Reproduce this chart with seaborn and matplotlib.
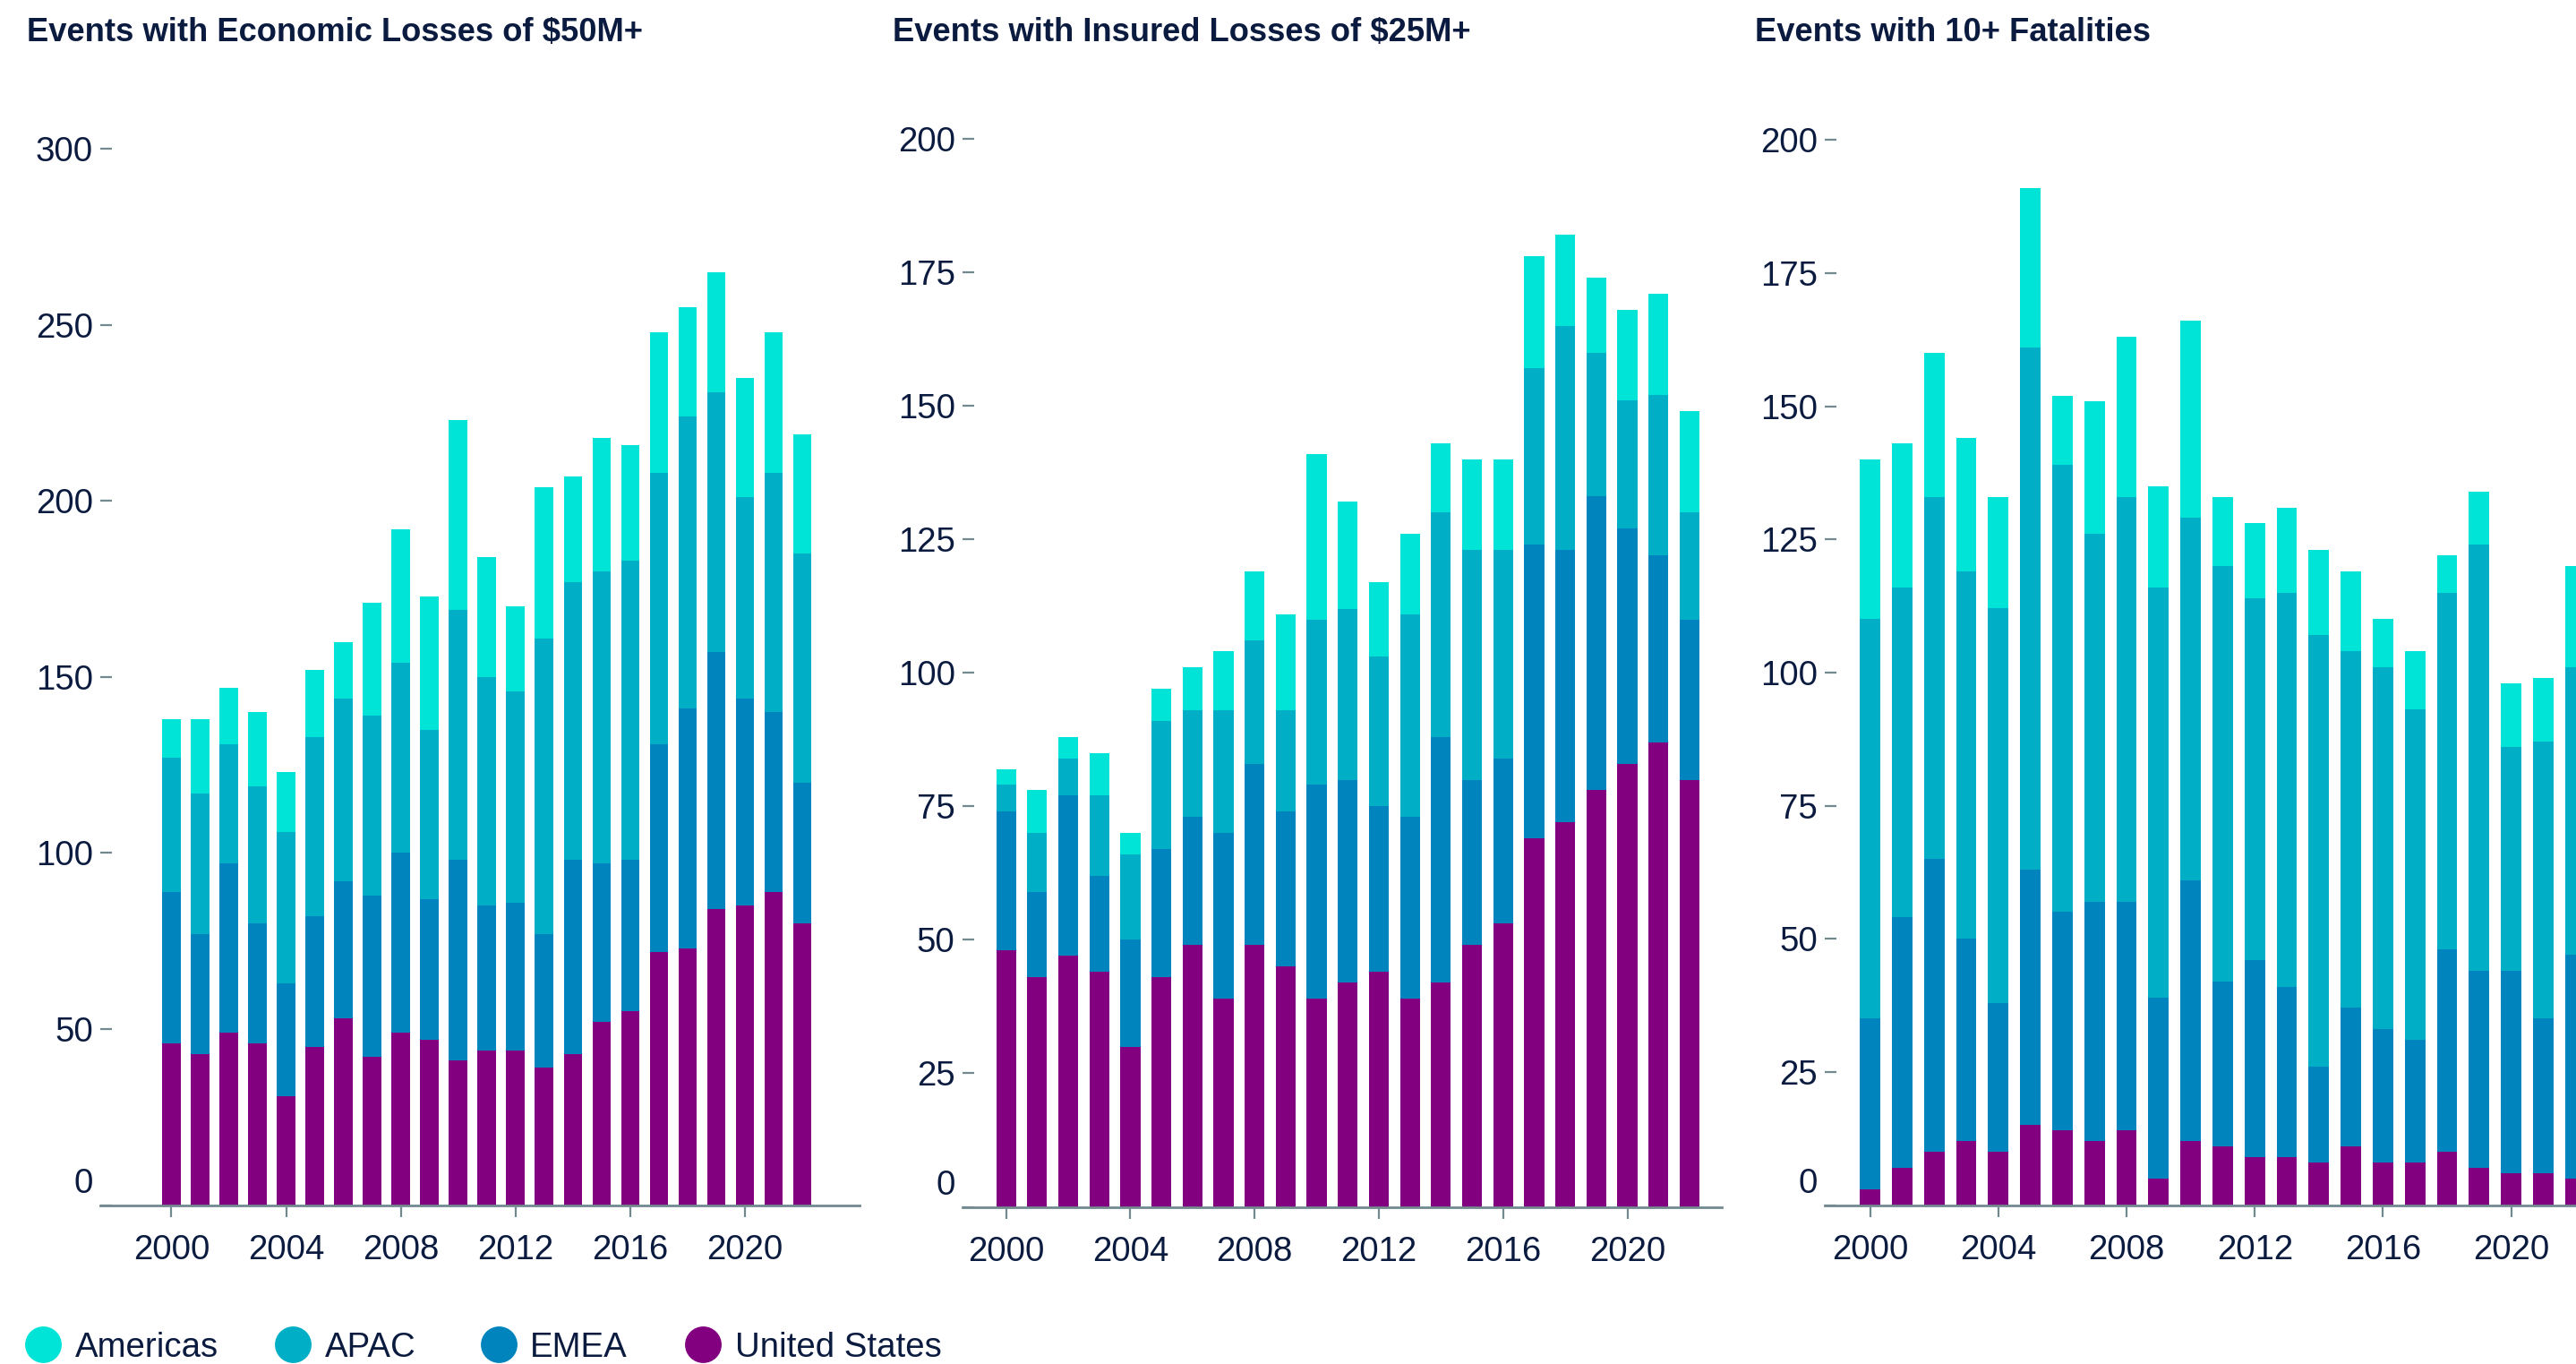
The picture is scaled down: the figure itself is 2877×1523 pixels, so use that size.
import numpy as np
import pandas as pd
import matplotlib
matplotlib.use("Agg")
import matplotlib.pyplot as plt
import matplotlib.transforms as mtransforms
from matplotlib.lines import Line2D
import seaborn as sns

# ---------------- data ----------------
years = list(range(2000, 2023))
regions = ["Americas", "APAC", "EMEA", "United States"]
tick_years = [2000, 2004, 2008, 2012, 2016, 2020]

econ_us       = [46, 43, 49, 46, 31, 45, 53, 42, 49, 47, 41, 44, 44, 39, 43, 52, 55, 72, 73, 84, 85, 89, 80]
econ_emea     = [43, 34, 48, 34, 32, 37, 39, 46, 51, 40, 57, 41, 42, 38, 55, 45, 43, 59, 68, 73, 59, 51, 40]
econ_apac     = [38, 40, 34, 39, 43, 51, 52, 51, 54, 48, 71, 65, 60, 84, 79, 83, 85, 77, 83, 74, 57, 68, 65]
econ_americas = [11, 21, 16, 21, 17, 19, 16, 32, 38, 38, 54, 34, 24, 43, 30, 38, 33, 40, 31, 34, 34, 40, 34]

ins_us        = [48, 43, 47, 44, 30, 43, 49, 39, 49, 45, 39, 42, 44, 39, 42, 49, 53, 69, 72, 78, 83, 87, 80]
ins_emea      = [26, 16, 30, 18, 20, 24, 24, 31, 34, 29, 40, 38, 31, 34, 46, 31, 31, 55, 51, 55, 44, 35, 30]
ins_apac      = [5, 11, 7, 15, 16, 24, 20, 23, 23, 19, 31, 32, 28, 38, 42, 43, 39, 33, 42, 27, 24, 30, 20]
ins_americas  = [3, 8, 4, 8, 4, 6, 8, 11, 13, 18, 31, 20, 14, 15, 13, 17, 17, 21, 17, 14, 17, 19, 19]

fat_us        = [3, 7, 10, 12, 10, 15, 14, 12, 14, 5, 12, 11, 9, 9, 8, 11, 8, 8, 10, 7, 6, 6, 5]
fat_emea      = [32, 47, 55, 38, 28, 48, 41, 45, 43, 34, 49, 31, 37, 32, 18, 26, 25, 23, 38, 37, 38, 29, 42]
fat_apac      = [75, 62, 68, 69, 74, 98, 84, 69, 76, 77, 68, 78, 68, 74, 81, 67, 68, 62, 67, 80, 42, 52, 54]
fat_americas  = [30, 27, 27, 25, 21, 30, 13, 25, 30, 19, 37, 13, 14, 16, 16, 15, 9, 11, 7, 10, 12, 12, 19]

titles = ["Events with Economic Losses of $50M+",
          "Events with Insured Losses of $25M+",
          "Events with 10+ Fatalities"]

# ---------------- style ----------------
colors = {"Americas": "#00E3D7", "APAC": "#00AFC6", "EMEA": "#0084BE", "United States": "#82007F"}
text_color = "#0B1B3F"
axis_color = "#728990"

sns.set_style("white")
plt.rcParams["font.family"] = ["Liberation Sans", "DejaVu Sans"]

W, H, DPI = 2877, 1523, 200
fig = plt.figure(figsize=(W / DPI, H / DPI), dpi=DPI)
fig.patch.set_facecolor("white")


def fx(px):
    return px / W


def fy(py):
    return 1 - py / H


# axes geometry in pixels: left, right, bottom (y=0), top (y=ymax), xlim
panels = [
    dict(data=(econ_us, econ_emea, econ_apac, econ_americas), left=112, right=960,
         bottom=1345.6, top=166.3, xlim=(-2.48, 24.0), ymax=300, yticks=[0, 50, 100, 150, 200, 250, 300],
         title_x=30),
    dict(data=(ins_us, ins_emea, ins_apac, ins_americas), left=1074.7, right=1923,
         bottom=1347.5, top=155, xlim=(-1.41, 23.04), ymax=200, yticks=[0, 25, 50, 75, 100, 125, 150, 175, 200],
         title_x=997),
    dict(data=(fat_us, fat_emea, fat_apac, fat_americas), left=2037.8, right=2037.8 + 24.46 * 35.8,
         bottom=1345.5, top=156.2, xlim=(-1.42, 23.04), ymax=200, yticks=[0, 25, 50, 75, 100, 125, 150, 175, 200],
         title_x=1960),
]

for p, title in zip(panels, titles):
    us, emea, apac, am = p["data"]
    df = pd.DataFrame({
        "year": [str(y) for y in years],
        "United States": us, "EMEA": emea, "APAC": apac, "Americas": am,
    })
    df["cum_us"] = df["United States"]
    df["cum_emea"] = df["cum_us"] + df["EMEA"]
    df["cum_apac"] = df["cum_emea"] + df["APAC"]
    df["cum_americas"] = df["cum_apac"] + df["Americas"]

    ax = fig.add_axes([fx(p["left"]), fy(p["bottom"]),
                       (p["right"] - p["left"]) / W, (p["bottom"] - p["top"]) / H])
    order = [str(y) for y in years]
    for col, reg in [("cum_americas", "Americas"), ("cum_apac", "APAC"),
                     ("cum_emea", "EMEA"), ("cum_us", "United States")]:
        sns.barplot(data=df, x="year", y=col, order=order, color=colors[reg],
                    saturation=1, width=0.64, errorbar=None, linewidth=0, ax=ax)

    ax.set_xlim(*p["xlim"])
    ax.set_ylim(0, p["ymax"])
    ax.set_xlabel("")
    ax.set_ylabel("")
    for s in ["top", "right", "left"]:
        ax.spines[s].set_visible(False)
    ax.spines["bottom"].set_color(axis_color)
    ax.spines["bottom"].set_linewidth(1.0)

    ax.set_xticks([years.index(y) for y in tick_years], labels=[str(y) for y in tick_years])
    ax.set_yticks(p["yticks"], labels=[str(v) for v in p["yticks"]])
    ax.tick_params(axis="x", bottom=True, length=4.7, width=0.8, color=axis_color, pad=7,
                   labelsize=13.8, labelcolor=text_color)
    ax.tick_params(axis="y", left=True, direction="in", length=4.7, width=0.8, color=axis_color, pad=2.9,
                   labelsize=13.8, labelcolor=text_color)
    ax.grid(False)

    # raise the "0" label slightly, as in the reference
    zero_lbl = ax.yaxis.get_major_ticks()[0].label1
    zero_lbl.set_transform(zero_lbl.get_transform() +
                           mtransforms.ScaledTranslation(0, 28 / DPI, fig.dpi_scale_trans))

    fig.text(fx(p["title_x"]), fy(46), title, ha="left", va="baseline",
             fontsize=13.1, fontweight="bold", color=text_color)

# ---------------- legend ----------------
legend_items = [("Americas", 48, 84), ("APAC", 327, 363), ("EMEA", 557, 592), ("United States", 785, 821)]
for name, cx, tx in legend_items:
    fig.add_artist(Line2D([fx(cx)], [fy(1501)], marker="o", markersize=13.7, linestyle="",
                          markerfacecolor=colors[name], markeredgecolor=colors[name],
                          transform=fig.transFigure))
    fig.text(fx(tx), fy(1501), name, ha="left", va="center_baseline",
             fontsize=13.8, color=text_color)

fig.savefig("out.png", dpi=DPI, facecolor="white")
